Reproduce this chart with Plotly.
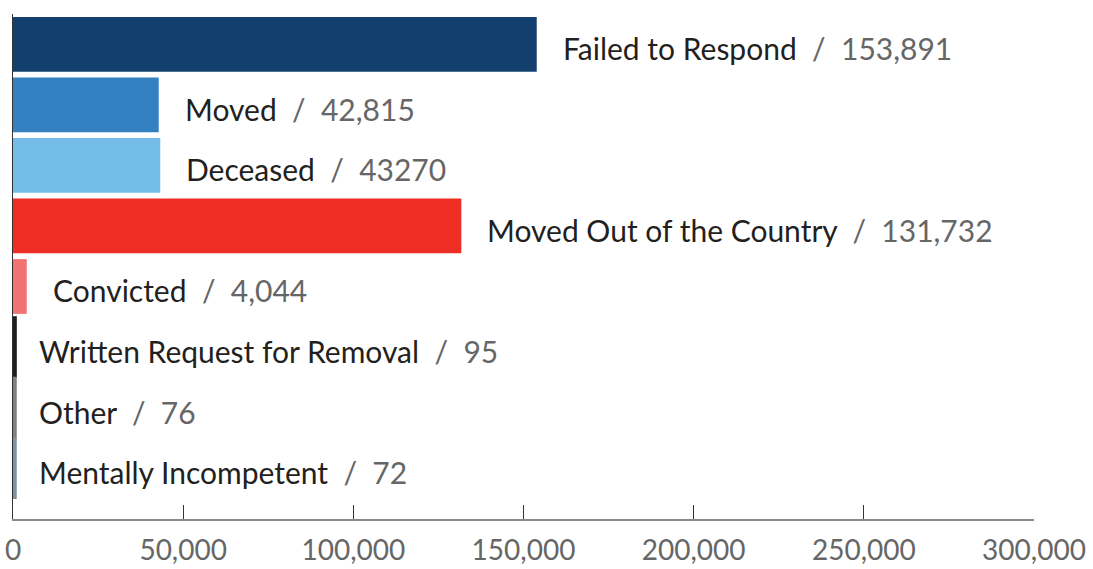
import plotly.graph_objects as go

categories = ["Failed to Respond", "Moved", "Deceased", "Moved Out of the Country",
              "Convicted", "Written Request for Removal", "Other", "Mentally Incompetent"]
values = [153891, 42815, 43270, 131732, 4044, 95, 76, 72]
value_labels = ["153,891", "42,815", "43270", "131,732", "4,044", "95", "76", "72"]
colors = ["#123f6e", "#3381c0", "#74bce8", "#ee2e24", "#f07272", "#1e1e1e", "#818181", "#7b949f"]
tick_vals = [0, 50000, 100000, 150000, 200000, 250000, 300000]
tick_text = ["0", "50,000", "100,000", "150,000", "200,000", "250,000", "300,000"]

FONT = "Lato"
# thin outline so that very small values stay visible (styling only)
line_w = [7 if v < 1000 else 0 for v in values]

fig = go.Figure(go.Bar(
    y=categories, x=values, orientation="h",
    marker=dict(color=colors, line=dict(color=colors, width=line_w)),
    hoverinfo="skip",
))

annotations = []
for c, v, lab in zip(categories, values, value_labels):
    annotations.append(dict(
        x=v, y=c, xref="x", yref="y", xanchor="left", yanchor="middle",
        xshift=24, yshift=-4, showarrow=False,
        text=f"{c}<span style='color:#666666'>&nbsp;&nbsp;/&nbsp;&nbsp;{lab}</span>",
        font=dict(family=FONT, size=30, color="#231f20"),
    ))

fig.update_layout(
    width=1093, height=569,
    margin=dict(l=13, r=59, t=14, b=50),
    paper_bgcolor="white", plot_bgcolor="white",
    bargap=0.096, showlegend=False,
    font=dict(family=FONT),
    annotations=annotations,
)
fig.update_yaxes(
    categoryorder="array", categoryarray=categories,
    range=[7.84, -0.5], showticklabels=False, ticks="",
    showgrid=False, zeroline=False, automargin=False,
    showline=True, linecolor="#333333", linewidth=1,
)
fig.update_xaxes(
    range=[0, 300000], tickvals=tick_vals, ticktext=tick_text,
    ticks="inside", ticklen=14, tickwidth=1, tickcolor="#333333",
    showline=True, linecolor="#8a8a8a", linewidth=2,
    showgrid=False, zeroline=False, automargin=False,
    tickfont=dict(family=FONT, size=28, color="#666666"),
    ticklabelstandoff=5,
)

fig.write_html("out.html")
